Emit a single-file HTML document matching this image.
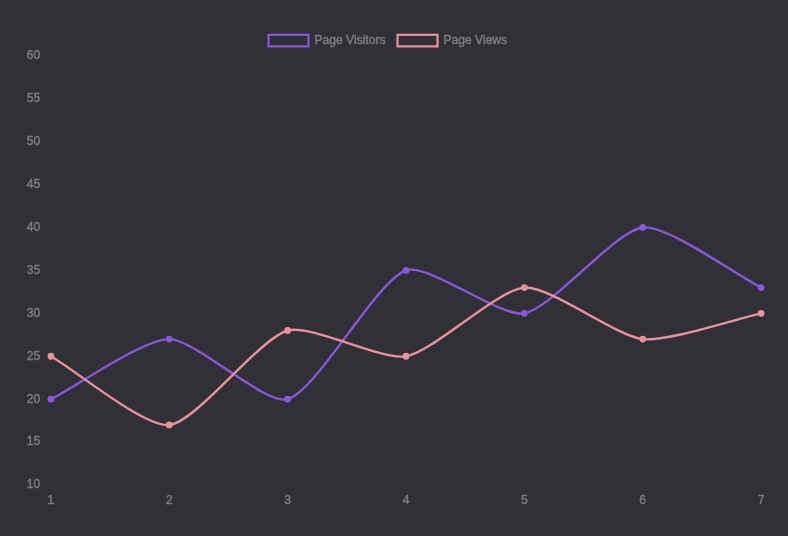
<!DOCTYPE html>
<html lang="en"><head><meta charset="utf-8"><title>Chart</title>
<style>html,body{margin:0;padding:0;background:#2f3136;overflow:hidden}svg{display:block}text{font-family:"Liberation Sans",Arial,Helvetica,sans-serif;font-size:12.1px;fill:#7b7c81;stroke:#7b7c81;stroke-width:0.45px}</style></head><body>
<svg width="788" height="536" viewBox="0 0 788 536">
<rect width="788" height="536" fill="#2f3136"/>
<rect x="268.5" y="34.8" width="40" height="11.6" fill="none" stroke="#8a56db" stroke-width="2.2"/>
<text x="314.5" y="43.8">Page Visitors</text>
<rect x="397.5" y="34.8" width="40" height="11.6" fill="none" stroke="#ec909c" stroke-width="2.2"/>
<text x="443.5" y="43.8">Page Views</text>
<text x="40.2" y="488.35" text-anchor="end">10</text>
<text x="40.2" y="445.43" text-anchor="end">15</text>
<text x="40.2" y="402.50" text-anchor="end">20</text>
<text x="40.2" y="359.57" text-anchor="end">25</text>
<text x="40.2" y="316.65" text-anchor="end">30</text>
<text x="40.2" y="273.73" text-anchor="end">35</text>
<text x="40.2" y="230.80" text-anchor="end">40</text>
<text x="40.2" y="187.88" text-anchor="end">45</text>
<text x="40.2" y="144.95" text-anchor="end">50</text>
<text x="40.2" y="102.03" text-anchor="end">55</text>
<text x="40.2" y="59.10" text-anchor="end">60</text>
<text x="50.90" y="504.1" text-anchor="middle">1</text>
<text x="169.27" y="504.1" text-anchor="middle">2</text>
<text x="287.63" y="504.1" text-anchor="middle">3</text>
<text x="406.00" y="504.1" text-anchor="middle">4</text>
<text x="524.37" y="504.1" text-anchor="middle">5</text>
<text x="642.73" y="504.1" text-anchor="middle">6</text>
<text x="761.10" y="504.1" text-anchor="middle">7</text>
<path d="M50.90 399.20 C76.94 385.98 143.23 339.11 169.27 339.11 C195.31 339.11 265.16 405.72 287.63 399.20 C317.24 390.61 375.72 281.41 406.00 270.43 C427.80 262.52 500.27 317.72 524.37 313.35 C552.35 308.28 615.43 230.47 642.73 227.50 C667.52 224.80 735.06 274.37 761.10 287.60" fill="none" stroke="#8a56db" stroke-width="2.4" stroke-linecap="butt" stroke-linejoin="miter"/>
<circle cx="50.90" cy="399.20" r="3.4" fill="#8a56db"/>
<circle cx="169.27" cy="339.11" r="3.4" fill="#8a56db"/>
<circle cx="287.63" cy="399.20" r="3.4" fill="#8a56db"/>
<circle cx="406.00" cy="270.43" r="3.4" fill="#8a56db"/>
<circle cx="524.37" cy="313.35" r="3.4" fill="#8a56db"/>
<circle cx="642.73" cy="227.50" r="3.4" fill="#8a56db"/>
<circle cx="761.10" cy="287.60" r="3.4" fill="#8a56db"/>
<path d="M50.90 356.27 C76.94 371.38 144.54 427.64 169.27 424.96 C196.62 421.98 258.70 338.91 287.63 330.52 C310.78 323.80 381.55 360.71 406.00 356.27 C433.63 351.27 497.57 289.54 524.37 287.60 C549.65 285.76 615.87 336.18 642.73 339.11 C667.95 341.85 735.06 319.02 761.10 313.35" fill="none" stroke="#ec909c" stroke-width="2.4" stroke-linecap="butt" stroke-linejoin="miter"/>
<circle cx="50.90" cy="356.27" r="3.4" fill="#ec909c"/>
<circle cx="169.27" cy="424.96" r="3.4" fill="#ec909c"/>
<circle cx="287.63" cy="330.52" r="3.4" fill="#ec909c"/>
<circle cx="406.00" cy="356.27" r="3.4" fill="#ec909c"/>
<circle cx="524.37" cy="287.60" r="3.4" fill="#ec909c"/>
<circle cx="642.73" cy="339.11" r="3.4" fill="#ec909c"/>
<circle cx="761.10" cy="313.35" r="3.4" fill="#ec909c"/>
</svg></body></html>
